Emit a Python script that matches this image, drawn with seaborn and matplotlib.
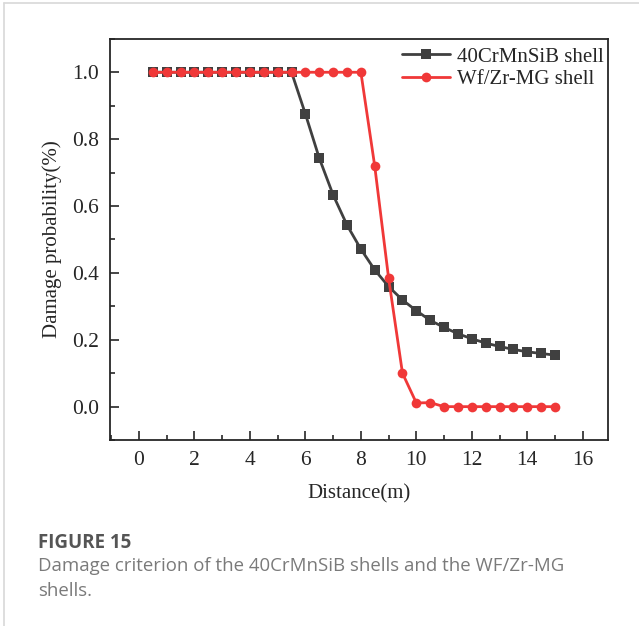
import numpy as np
import pandas as pd
import matplotlib
matplotlib.use("Agg")
import matplotlib.pyplot as plt
from matplotlib.ticker import MultipleLocator
import seaborn as sns

# distances (m)
distance = [0.5, 1.0, 1.5, 2.0, 2.5, 3.0, 3.5, 4.0, 4.5, 5.0,
            5.5, 6.0, 6.5, 7.0, 7.5, 8.0, 8.5, 9.0, 9.5, 10.0,
            10.5, 11.0, 11.5, 12.0, 12.5, 13.0, 13.5, 14.0, 14.5, 15.0]

# damage probability of the 40CrMnSiB shell
steel = [1.0, 1.0, 1.0, 1.0, 1.0, 1.0, 1.0, 1.0, 1.0, 1.0,
         1.0, 0.875, 0.743, 0.633, 0.543, 0.471, 0.409, 0.359, 0.319, 0.287,
         0.258, 0.237, 0.218, 0.203, 0.190, 0.180, 0.171, 0.164, 0.159, 0.154]

# damage probability of the Wf/Zr-MG shell
wfzr = [1.0, 1.0, 1.0, 1.0, 1.0, 1.0, 1.0, 1.0, 1.0, 1.0,
        1.0, 1.0, 1.0, 1.0, 1.0, 1.0, 0.719, 0.384, 0.10, 0.011,
        0.012, 0.0, 0.0, 0.0, 0.0, 0.0, 0.0, 0.0, 0.0, 0.0]

labels = ["40CrMnSiB shell", "Wf/Zr-MG shell"]

df = pd.DataFrame({
    "Distance": distance * 2,
    "Damage": steel + wfzr,
    "Shell": [labels[0]] * len(distance) + [labels[1]] * len(distance),
})

sns.set_style("ticks")
plt.rcParams["font.family"] = ["Liberation Serif", "DejaVu Serif"]
plt.rcParams["xtick.direction"] = "in"
plt.rcParams["ytick.direction"] = "in"

fig = plt.figure(figsize=(6.39, 6.26), dpi=100)
ax = fig.add_axes([0.172, 0.297, 0.779, 0.641])

sns.lineplot(data=df, x="Distance", y="Damage", hue="Shell", style="Shell",
             palette=["#404040", "#f03838"], markers=["s", "o"], dashes=False,
             markersize=7, markeredgewidth=0, linewidth=2, ax=ax)

ax.set_xlim(-1.05, 16.9)
ax.set_ylim(-0.1, 1.1)
ax.xaxis.set_major_locator(MultipleLocator(2))
ax.xaxis.set_minor_locator(MultipleLocator(1))
ax.yaxis.set_major_locator(MultipleLocator(0.2))
ax.yaxis.set_minor_locator(MultipleLocator(0.1))
ax.set_yticks([0.0, 0.2, 0.4, 0.6, 0.8, 1.0])
ax.tick_params(which="major", length=6.5, width=1.2, labelsize=15.5, pad=8)
ax.tick_params(which="minor", length=3.5, width=1.2)
ax.yaxis.set_major_formatter(matplotlib.ticker.FormatStrFormatter("%.1f"))
for s in ax.spines.values():
    s.set_linewidth(1.3)

ax.set_xlabel("Distance(m)", fontsize=15, labelpad=10)
ax.set_ylabel("Damage probability(%)", fontsize=15, labelpad=7)

ax.legend(loc="upper right", frameon=False, fontsize=15, handlelength=2.3,
          handletextpad=0.3, labelspacing=0.15, borderaxespad=0,
          bbox_to_anchor=(1.008, 1.0))

# caption
fig.text(38 / 639, 1 - 543 / 626, "FIGURE 15", family=["Open Sans", "DejaVu Sans"],
         fontsize=13.5, fontweight="bold", color="#555555", va="center")
fig.text(38 / 639, 1 - 566 / 626, "Damage criterion of the 40CrMnSiB shells and the WF/Zr-MG",
         family=["Open Sans", "DejaVu Sans"], fontsize=13.4, color="#7a7a7a", va="center")
fig.text(38 / 639, 1 - 591 / 626, "shells.",
         family=["Open Sans", "DejaVu Sans"], fontsize=13.4, color="#7a7a7a", va="center")

# card border
fig.add_artist(plt.Line2D([4 / 639, 4 / 639], [0, 1 - 3 / 626], transform=fig.transFigure,
                          color="#d8d8d8", linewidth=1.2))
fig.add_artist(plt.Line2D([4 / 639, 1], [1 - 3 / 626, 1 - 3 / 626], transform=fig.transFigure,
                          color="#d8d8d8", linewidth=1.2))

fig.savefig("out.png", dpi=100)
